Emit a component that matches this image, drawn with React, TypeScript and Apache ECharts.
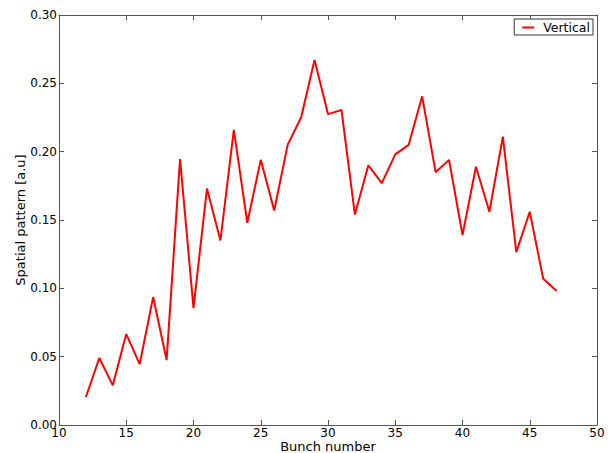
import React, { useEffect, useRef } from "react";
import * as echarts from "echarts";

// Bunch index along the train and the measured vertical spatial pattern
const bunches = [
  12, 13, 14, 15, 16, 17, 18, 19, 20, 21, 22, 23, 24, 25, 26, 27, 28, 29, 30,
  31, 32, 33, 34, 35, 36, 37, 38, 39, 40, 41, 42, 43, 44, 45, 46, 47,
];
const vertical = [
  0.0205, 0.049, 0.029, 0.0665, 0.0446, 0.0936, 0.0475, 0.1945, 0.0855, 0.173,
  0.135, 0.216, 0.148, 0.194, 0.157, 0.205, 0.225, 0.267, 0.2275, 0.2305,
  0.154, 0.19, 0.177, 0.198, 0.205, 0.2405, 0.185, 0.194, 0.139, 0.189, 0.156,
  0.211, 0.1265, 0.156, 0.107, 0.098,
];

const FONT = "DejaVu Sans";
const AXIS_COLOR = "#555";

export default function App() {
  const ref = useRef<HTMLDivElement>(null);

  useEffect(() => {
    document.body.style.margin = "0";
    if (!ref.current) return;
    const chart = echarts.init(ref.current, undefined, { renderer: "svg" });

    const xCommon = {
      type: "value" as const,
      min: 10,
      max: 50,
      interval: 5,
      axisLine: { show: true, onZero: false, lineStyle: { color: AXIS_COLOR, width: 1 } },
      axisTick: { show: true, inside: true, length: 5, lineStyle: { color: AXIS_COLOR } },
      splitLine: { show: false },
    };
    const yCommon = {
      type: "value" as const,
      min: 0,
      max: 0.3,
      interval: 0.05,
      axisLine: { show: true, onZero: false, lineStyle: { color: AXIS_COLOR, width: 1 } },
      axisTick: { show: true, inside: true, length: 5, lineStyle: { color: AXIS_COLOR } },
      splitLine: { show: false },
    };

    chart.setOption({
      animation: false,
      backgroundColor: "#fff",
      textStyle: { fontFamily: FONT },
      grid: {
        left: 59,
        right: 13,
        top: 15,
        bottom: 28,
        containLabel: false,
        outerBoundsMode: "none",
      },
      legend: {
        data: [{ name: "Vertical", icon: "rect" }],
        right: 17,
        top: 19,
        itemWidth: 12,
        itemHeight: 2,
        padding: [2, 3, 1, 8],
        borderColor: "#333",
        borderWidth: 1,
        borderRadius: 0,
        backgroundColor: "#fff",
        textStyle: {
          fontFamily: FONT,
          fontSize: 12.5,
          color: "#000",
          padding: [0, 0, 0, 4],
        },
      },
      xAxis: [
        {
          ...xCommon,
          position: "bottom",
          name: "Bunch number",
          nameLocation: "middle",
          nameGap: 15,
          nameMoveOverlap: false,
          nameTextStyle: { fontFamily: FONT, fontSize: 13, color: "#000" },
          axisLabel: {
            fontFamily: FONT,
            fontSize: 12,
            color: "#000",
            margin: 2,
          },
        },
        {
          ...xCommon,
          position: "top",
          axisLabel: { show: false },
        },
      ],
      yAxis: [
        {
          ...yCommon,
          position: "left",
          name: "Spatial pattern [a.u]",
          nameLocation: "middle",
          nameGap: 32,
          nameMoveOverlap: false,
          nameTextStyle: { fontFamily: FONT, fontSize: 13, color: "#000" },
          axisLabel: {
            fontFamily: FONT,
            fontSize: 12,
            color: "#000",
            margin: 2,
            formatter: (v: number) => v.toFixed(2),
          },
        },
        {
          ...yCommon,
          position: "right",
          axisLabel: { show: false },
        },
      ],
      series: [
        {
          name: "Vertical",
          type: "line",
          xAxisIndex: 0,
          yAxisIndex: 0,
          data: bunches.map((b, i) => [b, vertical[i]]),
          showSymbol: false,
          symbol: "none",
          lineStyle: { color: "#ff0000", width: 2 },
          itemStyle: { color: "#ff0000" },
        },
      ],
    });

    return () => chart.dispose();
  }, []);

  return <div ref={ref} style={{ width: 610, height: 453 }} />;
}
